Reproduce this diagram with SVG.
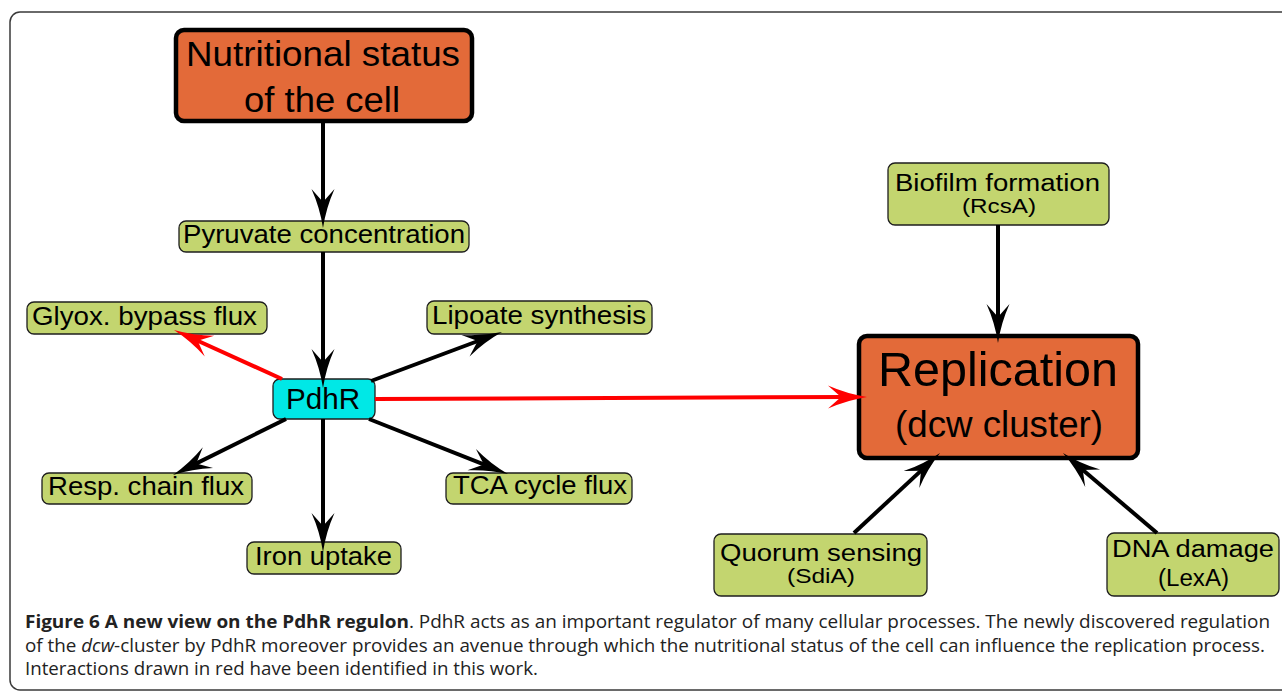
<svg xmlns="http://www.w3.org/2000/svg" width="1282" height="692" viewBox="0 0 1282 692">
<style>
  .frame { fill: none; stroke: #3a3a3a; stroke-width: 1.5; }
  .big { fill: #E36A39; stroke: #000; stroke-width: 4.5; }
  .leaf { fill: #C3D56F; stroke: #1e1e1e; stroke-width: 1.3; }
  .hub { fill: #00E8E6; stroke: #1e1e1e; stroke-width: 1.3; }
  text { font-family: "Liberation Sans", Arial, sans-serif; fill: #000; text-anchor: middle; }
  .t26 { font-size: 26px; }
  .t23 { font-size: 23px; }
  .t21 { font-size: 20px; }
  .edge { fill: none; stroke: #000; stroke-width: 4; marker-end: url(#ab); }
  .red { fill: none; stroke: #FF0000; stroke-width: 4; marker-end: url(#ar); }
  .cap { font-family: "Open Sans", "Liberation Sans", sans-serif; font-size: 18.5px; fill: #222; text-anchor: start; }
</style>
<defs>
  <marker id="ab" viewBox="0 0 40 24" markerWidth="40" markerHeight="24" refX="20" refY="12" orient="auto" markerUnits="userSpaceOnUse">
    <path d="M40,12 Q20,9 1,0.5 L14,12 L1,23.5 Q20,15 40,12 Z" fill="#000"/>
  </marker>
  <marker id="ar" viewBox="0 0 40 24" markerWidth="40" markerHeight="24" refX="20" refY="12" orient="auto" markerUnits="userSpaceOnUse">
    <path d="M40,12 Q20,9 1,0.5 L14,12 L1,23.5 Q20,15 40,12 Z" fill="#FF0000"/>
  </marker>
</defs>

<rect class="frame" x="10" y="12" width="1290" height="678" rx="10"/>

<g id="node-nutritional">
  <rect class="big" x="176" y="30" width="296" height="91" rx="8"/>
  <text x="323" y="66" font-size="35" textLength="274" lengthAdjust="spacingAndGlyphs">Nutritional status</text>
  <text x="322" y="112" font-size="35" textLength="156" lengthAdjust="spacingAndGlyphs">of the cell</text>
</g>

<g id="node-pyruvate">
  <rect class="leaf" x="179" y="221" width="290" height="31" rx="7"/>
  <text class="t26" x="324" y="243" textLength="282" lengthAdjust="spacingAndGlyphs">Pyruvate concentration</text>
</g>

<g id="node-pdhr">
  <rect class="hub" x="273" y="379" width="102" height="40" rx="7"/>
  <text x="323" y="409" font-size="29" textLength="74" lengthAdjust="spacingAndGlyphs">PdhR</text>
</g>

<g id="node-glyox">
  <rect class="leaf" x="27" y="302" width="240" height="32" rx="7"/>
  <text class="t26" x="144.5" y="325" textLength="225" lengthAdjust="spacingAndGlyphs">Glyox. bypass flux</text>
</g>

<g id="node-lipoate">
  <rect class="leaf" x="427" y="301" width="225" height="33" rx="7"/>
  <text class="t26" x="539" y="324" textLength="214" lengthAdjust="spacingAndGlyphs">Lipoate synthesis</text>
</g>

<g id="node-resp">
  <rect class="leaf" x="42" y="473" width="210" height="31" rx="7"/>
  <text class="t26" x="146" y="495" textLength="196" lengthAdjust="spacingAndGlyphs">Resp. chain flux</text>
</g>

<g id="node-tca">
  <rect class="leaf" x="446" y="473" width="186" height="31" rx="7"/>
  <text class="t26" x="540" y="494" textLength="174" lengthAdjust="spacingAndGlyphs">TCA cycle flux</text>
</g>

<g id="node-iron">
  <rect class="leaf" x="247" y="542" width="154" height="32" rx="7"/>
  <text class="t26" x="323.5" y="565" textLength="137" lengthAdjust="spacingAndGlyphs">Iron uptake</text>
</g>

<g id="node-replication">
  <rect class="big" x="859" y="336" width="279" height="122" rx="8"/>
  <text x="998" y="386" font-size="49" textLength="240" lengthAdjust="spacingAndGlyphs">Replication</text>
  <text x="999" y="437" font-size="36" textLength="208" lengthAdjust="spacingAndGlyphs">(dcw cluster)</text>
</g>

<g id="node-biofilm">
  <rect class="leaf" x="888" y="163" width="221" height="62" rx="7"/>
  <text class="t23" x="997.5" y="191" textLength="205" lengthAdjust="spacingAndGlyphs">Biofilm formation</text>
  <text class="t21" x="999" y="213" textLength="74" lengthAdjust="spacingAndGlyphs">(RcsA)</text>
</g>

<g id="node-quorum">
  <rect class="leaf" x="714" y="534" width="213" height="62" rx="7"/>
  <text class="t23" x="821" y="561" textLength="202" lengthAdjust="spacingAndGlyphs">Quorum sensing</text>
  <text class="t21" x="821" y="583" textLength="68" lengthAdjust="spacingAndGlyphs">(SdiA)</text>
</g>

<g id="node-dna">
  <rect class="leaf" x="1107" y="533" width="172" height="63" rx="7"/>
  <text class="t23" x="1193" y="557" textLength="162" lengthAdjust="spacingAndGlyphs">DNA damage</text>
  <text class="t23" x="1193.5" y="586" textLength="71" lengthAdjust="spacingAndGlyphs">(LexA)</text>
</g>

<g id="connectors">
  <line class="edge" x1="323" y1="122" x2="323" y2="208"/>
  <line class="edge" x1="323" y1="252" x2="323" y2="368"/>
  <line class="red" x1="282" y1="379" x2="192.2" y2="338.3"/>
  <line class="edge" x1="371" y1="381" x2="483.3" y2="339"/>
  <line class="edge" x1="286" y1="419" x2="190.9" y2="466.1"/>
  <line class="edge" x1="323" y1="419" x2="323" y2="532"/>
  <line class="edge" x1="369" y1="419" x2="489.4" y2="466.6"/>
  <line class="red" x1="375" y1="399" x2="847" y2="397"/>
  <line class="edge" x1="998" y1="225" x2="998" y2="323"/>
  <line class="edge" x1="854" y1="533" x2="925.4" y2="466.6"/>
  <line class="edge" x1="1157" y1="533" x2="1078.2" y2="466"/>
</g>

<g id="caption">
  <text class="cap" x="25" y="628" textLength="1245" lengthAdjust="spacingAndGlyphs"><tspan font-weight="bold">Figure 6 A new view on the PdhR regulon</tspan>. PdhR acts as an important regulator of many cellular processes. The newly discovered regulation</text>
  <text class="cap" x="25" y="652" textLength="1240" lengthAdjust="spacingAndGlyphs">of the <tspan font-style="italic">dcw</tspan>-cluster by PdhR moreover provides an avenue through which the nutritional status of the cell can influence the replication process.</text>
  <text class="cap" x="25" y="675" textLength="513" lengthAdjust="spacingAndGlyphs">Interactions drawn in red have been identified in this work.</text>
</g>
</svg>
